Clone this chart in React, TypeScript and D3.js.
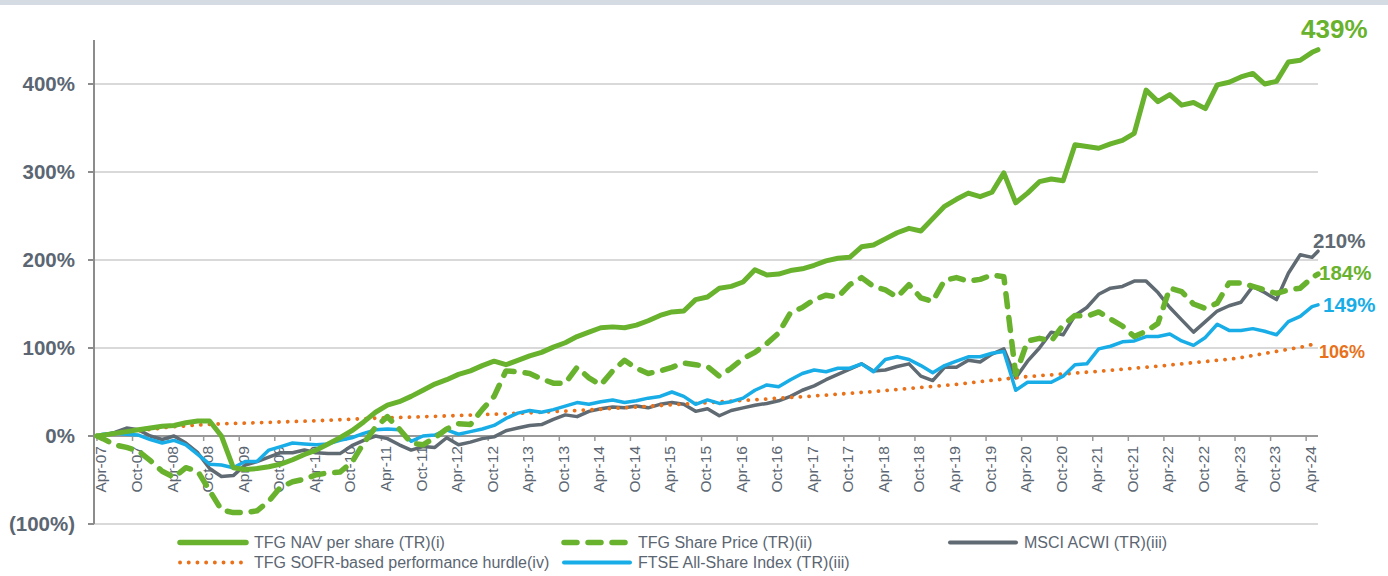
import React from "react";
import * as d3 from "d3";

// Monthly sample grid: month 0 = Apr-07, then every other month, ending Jun-24
const START = new Date(2007, 3, 1);
const sampleMonths = [0, ...d3.range(1, 206, 2), 206];

// TFG NAV per share (TR), % cumulative
const navValues = [
  0, 1, 3, 5, 7, 9, 11, 12, 15, 17,
  17, 0, -36, -38, -37, -35, -32, -27, -21, -16,
  -9, -2, 6, 16, 27, 35, 39, 45, 52, 59,
  64, 70, 74, 80, 85, 81, 86, 91, 95, 101,
  106, 113, 118, 123, 124, 123, 126, 131, 137, 141,
  142, 155, 158, 168, 170, 175, 189, 183, 184, 188,
  190, 194, 199, 202, 203, 215, 217, 224, 231, 236,
  233, 247, 261, 269, 276, 272, 277, 299, 265, 276,
  289, 292, 290, 331, 329, 327, 332, 336, 344, 393,
  380, 388, 376, 379, 372, 399, 402, 408, 412, 400,
  403, 425, 427, 436, 439,
];

// TFG Share Price (TR)
const sharePriceValues = [
  0, -3, -10, -13, -17, -28, -40, -47, -36, -40,
  -62, -84, -87, -87, -85, -74, -58, -52, -49, -44,
  -42, -41, -30, -8, 10, 22, 8, -8, -10, -2,
  8, 14, 13, 30, 45, 74, 73, 71, 65, 60,
  60, 78, 66, 58, 74, 86, 77, 71, 74, 78,
  83, 81, 79, 68, 77, 88, 95, 105, 117, 140,
  146, 155, 160, 158, 172, 180, 170, 166, 158, 172,
  157, 153, 177, 180, 176, 178, 183, 181, 70, 108,
  111, 108, 126, 137, 136, 141, 133, 125, 113, 119,
  128, 168, 164, 150, 145, 151, 174, 174, 170, 166,
  162, 166, 168, 180, 184,
];

// MSCI ACWI (TR)
const msciValues = [
  0, 1, 4, 9, 7, 0, -4, 0, -8, -19,
  -37, -46, -45, -33, -29, -24, -19, -19, -16, -19,
  -20, -20, -11, -5, 0, -3, -10, -16, -12, -13,
  -2, -10, -7, -3, -1, 6, 9, 12, 13, 19,
  24, 22, 28, 31, 33, 32, 34, 32, 36, 38,
  36, 28, 31, 23, 29, 32, 35, 37, 40, 45,
  52, 57, 64, 70, 76, 82, 74, 75, 79, 82,
  68, 63, 78, 78, 86, 84, 93, 99, 66, 85,
  100, 118, 115, 137, 146, 161, 168, 170, 176, 176,
  163, 146, 132, 118, 130, 142, 148, 152, 170, 163,
  155, 185, 206, 203, 210,
];

// FTSE All-Share Index (TR)
const ftseValues = [
  0, 2, 3, 2, 1, -4, -8, -5, -10, -21,
  -32, -33, -36, -29, -29, -16, -12, -8, -9, -10,
  -9, -5, -2, 3, 7, 8, 7, -6, 0, 1,
  7, 2, 5, 8, 12, 20, 26, 29, 27, 30,
  34, 38, 36, 39, 41, 38, 40, 43, 45, 50,
  45, 36, 41, 37, 39, 43, 52, 58, 56, 64,
  71, 75, 73, 77, 77, 82, 73, 87, 90, 87,
  80, 72, 80, 85, 90, 90, 94, 96, 52, 61,
  61, 61, 68, 81, 82, 99, 102, 107, 108, 113,
  113, 116, 108, 103, 112, 127, 120, 120, 122, 119,
  115, 130, 136, 147, 149,
];

// TFG SOFR-based performance hurdle
const hurdleDates = [
  "2007-04", "2007-10", "2008-04", "2008-10", "2009-04", "2010-04", "2011-04",
  "2012-04", "2013-04", "2014-04", "2015-04", "2016-04", "2017-04", "2018-04",
  "2019-04", "2020-04", "2021-04", "2022-04", "2023-04", "2024-04", "2024-06",
];
const hurdleValues = [
  0, 5, 10, 13, 14.5, 17, 20.5, 23, 26, 30, 35, 40, 45, 51, 58, 67, 73, 80, 88, 102, 106,
];

const yTickValues = [-100, 0, 100, 200, 300, 400];
const xTickMonths = d3.range(0, 205, 6);

const parseMonth = d3.timeParse("%Y-%m");
const fmtMonth = d3.timeFormat("%b-%y");

const WIDTH = 1388;
const HEIGHT = 576;
const FONT = "'Liberation Sans', Arial, Helvetica, sans-serif";
const TEXT = "#5b6672";

const GREEN = "#68b22d";
const GREY = "#5f6a72";
const BLUE = "#18ade6";
const ORANGE = "#e8711a";

const DOTS = "0.1 8.6";
const DASHES = "13 11";

const x = d3.scaleLinear().domain([-0.5, 206]).range([94, 1318]);
const y = d3.scaleLinear().domain([-100, 450]).range([524, 40]);

type Pt = { m: number; v: number };

const zipGrid = (vals: number[]): Pt[] => vals.map((v, i) => ({ m: sampleMonths[i], v }));
const hurdlePoints: Pt[] = hurdleDates.map((d, i) => ({
  m: d3.timeMonth.count(START, parseMonth(d) as Date),
  v: hurdleValues[i],
}));

const line = d3
  .line<Pt>()
  .x((d) => x(d.m))
  .y((d) => y(d.v));

const series = [
  { key: "msci", pts: zipGrid(msciValues), color: GREY, width: 3.5, dash: undefined, lab: { dx: -5, dy: -3, size: 20.5 } },
  { key: "hurdle", pts: hurdlePoints, color: ORANGE, width: 3.8, dash: DOTS, lab: { dx: 1, dy: 15, size: 18 } },
  { key: "ftse", pts: zipGrid(ftseValues), color: BLUE, width: 3.5, dash: undefined, lab: { dx: 5, dy: 7, size: 20.5 } },
  { key: "share", pts: zipGrid(sharePriceValues), color: GREEN, width: 5.5, dash: DASHES, lab: { dx: 1, dy: 6, size: 20.5 } },
  { key: "nav", pts: zipGrid(navValues), color: GREEN, width: 5, dash: undefined, lab: { dx: -17, dy: -12, size: 26 } },
];

const legend = [
  { label: "TFG NAV per share (TR)(i)", color: GREEN, width: 5.5, dash: undefined, x: 180, y: 542.5 },
  { label: "TFG SOFR-based performance hurdle(iv)", color: ORANGE, width: 3.8, dash: DOTS, x: 180, y: 562.5 },
  { label: "TFG Share Price (TR)(ii)", color: GREEN, width: 5.5, dash: DASHES, x: 564, y: 542.5 },
  { label: "FTSE All-Share Index (TR)(iii)", color: BLUE, width: 4, dash: undefined, x: 564, y: 562.5 },
  { label: "MSCI ACWI (TR)(iii)", color: GREY, width: 4, dash: undefined, x: 950, y: 542.5 },
];

const yLabel = (v: number) => (v < 0 ? `(${-v}%)` : `${v}%`);

export default function App() {
  const [x0, x1] = x.range();
  return (
    <svg
      width={WIDTH}
      height={HEIGHT}
      style={{ position: "absolute", left: 0, top: 0, display: "block", background: "#fff" }}
      fontFamily={FONT}
    >
      <rect x={0} y={0} width={WIDTH} height={5} fill="#d5dbe3" />

      {/* gridlines */}
      {yTickValues
        .filter((v) => v !== 0)
        .map((v) => (
          <line key={v} x1={x0} x2={x1} y1={y(v)} y2={y(v)} stroke="#d9d9d9" strokeWidth={1.8} />
        ))}

      {/* y axis */}
      <line x1={x0} x2={x0} y1={y(450)} y2={y(-100)} stroke="#8c8c8c" strokeWidth={2} />
      {yTickValues.map((v) => (
        <g key={v}>
          <line x1={x0 - 6} x2={x0} y1={y(v)} y2={y(v)} stroke="#8c8c8c" strokeWidth={2} />
          <text
            x={75}
            y={y(v)}
            dy="0.36em"
            textAnchor="end"
            fontSize={20.5}
            fontWeight="bold"
            fill={TEXT}
          >
            {yLabel(v)}
          </text>
        </g>
      ))}

      {/* x axis on the 0% line */}
      <line x1={x0} x2={x1} y1={y(0)} y2={y(0)} stroke="#999" strokeWidth={2} />
      {xTickMonths.map((m) => (
        <g key={m}>
          <line x1={x(m)} x2={x(m)} y1={y(0)} y2={y(0) + 5} stroke="#999" strokeWidth={1.5} />
          <text
            transform={`translate(${x(m)},${y(0) + 10}) rotate(-90)`}
            y={9.5}
            textAnchor="end"
            fontSize={15.5}
            fill={TEXT}
          >
            {fmtMonth(d3.timeMonth.offset(START, m))}
          </text>
        </g>
      ))}

      {/* series */}
      {series.map((s) => (
        <path
          key={s.key}
          d={line(s.pts) || ""}
          fill="none"
          stroke={s.color}
          strokeWidth={s.width}
          strokeDasharray={s.dash}
          strokeLinecap="round"
          strokeLinejoin="round"
        />
      ))}

      {/* end labels */}
      {series.map((s) => {
        const last = s.pts[s.pts.length - 1];
        return (
          <text
            key={s.key + "-lab"}
            x={x(last.m) + s.lab.dx}
            y={y(last.v) + s.lab.dy}
            fontSize={s.lab.size}
            fontWeight="bold"
            fill={s.color}
          >
            {`${last.v}%`}
          </text>
        );
      })}

      {/* legend */}
      {legend.map((l) => (
        <g key={l.label}>
          <line
            x1={l.x}
            x2={l.x + 66}
            y1={l.y}
            y2={l.y}
            stroke={l.color}
            strokeWidth={l.width}
            strokeDasharray={l.dash}
            strokeLinecap="round"
          />
          <text x={l.x + 74} y={l.y} dy="0.36em" fontSize={16} fill={TEXT}>
            {l.label}
          </text>
        </g>
      ))}
    </svg>
  );
}
